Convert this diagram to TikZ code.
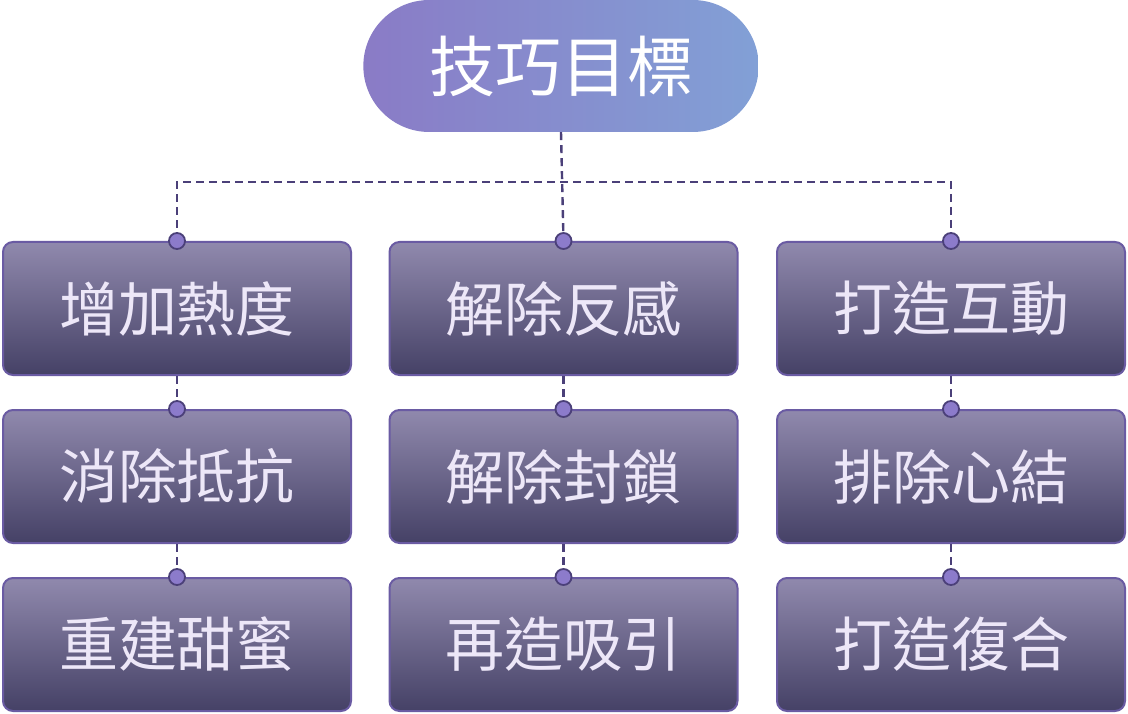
\documentclass[tikz,border=0pt]{standalone}
\usepackage{fontspec}
\newfontfamily\cjk{Noto Sans CJK TC}
\usetikzlibrary{
  shapes.misc,   % 圆角胶囊形
  positioning    % 节点相对定位
}
\definecolor{pillL}{HTML}{8A7BC6}
\definecolor{pillR}{HTML}{82A0D6}
\definecolor{boxT}{HTML}{9089AD}
\definecolor{boxB}{HTML}{454166}
\definecolor{boxEdge}{HTML}{6A5BA3}
\definecolor{boxText}{HTML}{EDE7F8}
\definecolor{linkC}{HTML}{4B4079}
\definecolor{dotF}{HTML}{8C7BCB}

\begin{document}
\begin{tikzpicture}[x=1pt, y=-1pt,
  pill/.style={rounded rectangle, minimum width=402pt, minimum height=132pt,
    left color=pillL, right color=pillR, draw=none,
    text=white, font=\cjk\fontsize{66}{66}\selectfont},
  card/.style={rectangle, rounded corners=10pt, minimum width=348pt, minimum height=133pt,
    top color=boxT, bottom color=boxB, draw=boxEdge, line width=2pt,
    text=boxText, font=\cjk\fontsize{59}{59}\selectfont},
  link/.style={draw=linkC, line width=2.4pt, dash pattern=on 8pt off 5pt},
  dot/.style={circle, fill=dotF, draw=linkC, line width=1.8pt, minimum size=16pt, inner sep=0pt}]
  \useasboundingbox (0,0) rectangle (1128,714);

  % 顶部标题
  \node[pill] (goal) at (561,66) {技巧目標};

  % 三列卡片
  \node[card] (a1) at (177,308.5) {增加熱度};
  \node[card] (a2) at (177,476.5) {消除抵抗};
  \node[card] (a3) at (177,644.5) {重建甜蜜};
  \node[card] (b1) at (563.5,308.5) {解除反感};
  \node[card] (b2) at (563.5,476.5) {解除封鎖};
  \node[card] (b3) at (563.5,644.5) {再造吸引};
  \node[card] (c1) at (951,308.5) {打造互動};
  \node[card] (c2) at (951,476.5) {排除心結};
  \node[card] (c3) at (951,644.5) {打造復合};

  % 连接点位置
  \foreach \col in {a,b,c}{
    \foreach \row in {1,2,3}{
      \coordinate (\col\row d) at (\col\row.north);
    }
  }

  % 虚线连接
  \coordinate (bus) at (563,182);
  \draw[link] (goal.south) -- (b1d);
  \draw[link] (a1d) |- (bus) -| (c1d);
  \foreach \col in {a,b,c}{
    \draw[link] (\col1.south) -- (\col2d);
    \draw[link] (\col2.south) -- (\col3d);
  }

  % 点放在线上方
  \foreach \col in {a,b,c}{
    \foreach \row in {1,2,3}{
      \node[dot] at (\col\row d) {};
    }
  }
\end{tikzpicture}
\end{document}
